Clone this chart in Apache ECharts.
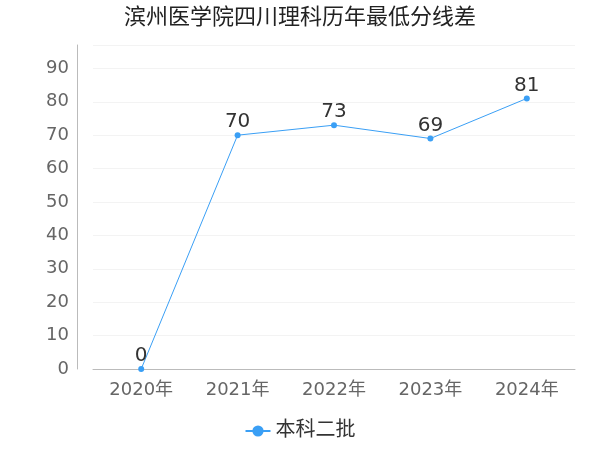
<!DOCTYPE html>
<html>
<head>
<meta charset="utf-8">
<script src="https://cdn.jsdelivr.net/npm/echarts@6/dist/echarts.min.js"></script>
<style>html,body{margin:0;padding:0;}#chart{width:600px;height:450px;}</style>
</head>
<body>
<div id="chart"></div>
<script>
var years = ['2020年', '2021年', '2022年', '2023年', '2024年'];
var diffValues = [0, 70, 73, 69, 81];
var seriesName = '本科二批';

var myChart = echarts.init(document.getElementById('chart'));
var option = {
    title: {
        text: '滨州医学院四川理科历年最低分线差',
        left: 'center',
        top: 2,
        textStyle: { fontSize: 22, fontWeight: 'normal', color: '#222', fontFamily: 'DejaVu Sans, Noto Sans CJK SC' }
    },
    legend: {
        bottom: 4,
        itemGap: 4,
        data: [seriesName],
        textStyle: { fontSize: 20, color: '#333', fontFamily: 'DejaVu Sans, Noto Sans CJK SC' }
    },
    grid: { left: 93, right: 25, top: 45, bottom: 81 },
    xAxis: {
        type: 'category',
        data: years,
        axisTick: { show: false },
        axisLine: { lineStyle: { color: '#bbb' } },
        axisLabel: { fontSize: 18, color: '#666', margin: 12, fontFamily: 'DejaVu Sans, Noto Sans CJK SC' }
    },
    yAxis: {
        type: 'value',
        min: 0, max: 97, interval: 10,
        offset: 16,
        axisLine: { show: true, lineStyle: { color: '#bbb' } },
        axisTick: { show: false },
        splitLine: { lineStyle: { color: '#f3f3f3' } },
        axisLabel: {
            fontSize: 18, color: '#666', fontFamily: 'DejaVu Sans',
            formatter: function (v) { return v % 10 ? '' : v; }
        }
    },
    series: [{
        name: seriesName,
        type: 'line',
        data: diffValues,
        symbol: 'circle',
        symbolSize: 6,
        color: '#3a9ff5',
        lineStyle: { width: 1 },
        label: { show: true, position: 'top', distance: 0, fontSize: 20, color: '#333', fontFamily: 'DejaVu Sans' }
    }]
};
myChart.setOption(option);
</script>
</body>
</html>
